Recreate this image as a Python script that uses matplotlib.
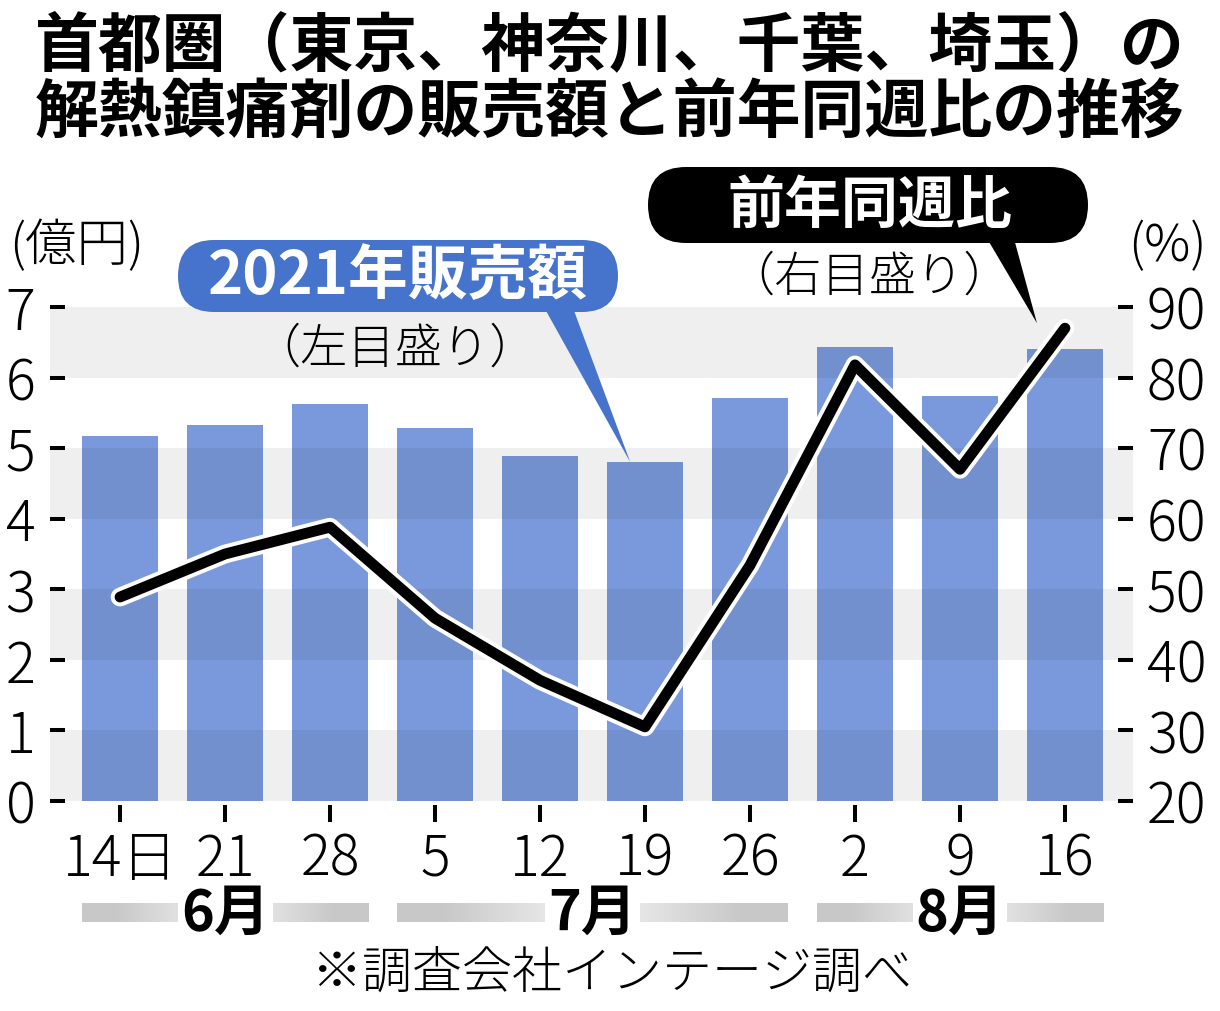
import numpy as np
import matplotlib
matplotlib.use('Agg')
import matplotlib.pyplot as plt
import matplotlib.patheffects as pe
from matplotlib.patches import FancyBboxPatch, Polygon
from matplotlib.colors import LinearSegmentedColormap

plt.rcParams['font.family'] = ['Noto Sans CJK JP', 'DejaVu Sans']

# data
week_labels = ['14日', '21', '28', '5', '12', '19', '26', '2', '9', '16']
week_month = [6, 6, 6, 7, 7, 7, 7, 8, 8, 8]
month_labels = {6: '6月', 7: '7月', 8: '8月'}
sales = [5.17, 5.33, 5.62, 5.29, 4.89, 4.80, 5.71, 6.43, 5.74, 6.41]   # 億円
yoy = [48.9, 55.0, 58.8, 45.9, 37.1, 30.5, 53.4, 81.8, 67.0, 87.0]     # %
left_ticks = list(range(0, 8))
right_ticks = list(range(20, 100, 10))

W, H = 1220, 1011
fig = plt.figure(figsize=(W / 100, H / 100), dpi=100)

# main axes (pixel box 50..1133 x 307..801)
ax = fig.add_axes([50 / W, 1 - 801 / H, (1133 - 50) / W, (801 - 307) / H])
ax2 = ax.twinx()
x = np.arange(len(sales))

ax.bar(x, sales, width=0.724, color='#7a99dc', zorder=2)
# grey bands drawn as a faint dark overlay -> acts like multiply over the bars
for lo in range(0, 7, 2):
    ax.axhspan(lo, lo + 1, color='black', alpha=0.063, lw=0, zorder=3)

ax.set_xlim(-0.667, 9.648)
ax.set_ylim(0, 7)
ax2.set_ylim(20, 90)

for a in (ax, ax2):
    for s in a.spines.values():
        s.set_visible(False)
ax.spines['bottom'].set_position(('outward', 3))

ax.set_yticks(left_ticks)
ax.set_yticklabels([str(t) for t in left_ticks], fontweight='light')
ax2.set_yticks(right_ticks)
ax2.set_yticklabels([str(t) for t in right_ticks], fontweight='light')
ax.set_xticks(x)
ax.set_xticklabels(week_labels, fontweight='light')

ax.tick_params(axis='y', direction='in', length=10.8, width=2.9, pad=10.5,
               labelsize=40, left=True, right=False)
ax2.tick_params(axis='y', direction='in', length=10.8, width=2.9, pad=10,
                labelsize=40, left=False, right=True)
ax.tick_params(axis='x', direction='out', length=12, width=2.9, pad=6,
               labelsize=40)

ax2.plot(x, yoy, color='black', lw=7.8, solid_capstyle='round',
         solid_joinstyle='round', zorder=5,
         path_effects=[pe.Stroke(linewidth=13.5, foreground='white'), pe.Normal()])

# month strips with a soft gradient and the month label in the gap
strip_cmap = LinearSegmentedColormap.from_list('strip', ['#f4f4f4', '#c8c8c8'])
for m, lab in month_labels.items():
    idx = [i for i, wm in enumerate(week_month) if wm == m]
    x0, x1 = idx[0] - 0.362, idx[-1] + 0.362
    cx = (idx[0] + idx[-1]) / 2
    xs = np.linspace(x0, x1, 300)
    d = np.abs(xs - cx) / max(cx - x0, x1 - cx)
    ax.imshow(np.clip(d * 1.3, 0, 1)[None, :], cmap=strip_cmap, vmin=0, vmax=1,
              extent=[x0, x1, -1.714, -1.445], aspect='auto', clip_on=False,
              zorder=1, interpolation='bilinear')
    ax.text(cx, -1.60, lab, ha='center', va='center', fontsize=40,
            fontweight='bold', clip_on=False, zorder=4,
            bbox=dict(boxstyle='square,pad=0.06', fc='white', ec='none'))
ax.set_xlim(-0.667, 9.648)
ax.set_ylim(0, 7)

# overlay in pixel coordinates for titles and callouts
ov = fig.add_axes([0, 0, 1, 1], zorder=10)
ov.set_xlim(0, W)
ov.set_ylim(H, 0)
ov.axis('off')


def to_px(a, xv, yv):
    dx, dy = a.transData.transform((xv, yv))
    return dx, H - dy


ov.text(610, 46, '首都圏（東京、神奈川、千葉、埼玉）の', ha='center', va='center',
        fontsize=46, fontweight='bold')
ov.text(610, 113, '解熱鎮痛剤の販売額と前年同週比の推移', ha='center', va='center',
        fontsize=46, fontweight='bold')

ov.text(77, 247, '(億円)', ha='center', va='center', fontsize=37, fontweight='light')
ov.text(1167, 247, '(%)', ha='center', va='center', fontsize=37, fontweight='light')

# blue callout: sales
blue = '#4673cc'
tip = to_px(ax, x[5] - 0.14, sales[5])
ov.add_patch(Polygon([(540, 300), (570, 300), tip], closed=True, fc=blue, ec='none'))
ov.add_patch(FancyBboxPatch((178, 240), 440, 72, boxstyle='round,pad=0,rounding_size=36',
                            fc=blue, ec='none'))
ov.text(398, 277, '2021年販売額', ha='center', va='center', fontsize=43,
        fontweight='bold', color='white')
ov.text(395, 349, '（左目盛り）', ha='center', va='center', fontsize=34, fontweight='light')

# black callout: year-on-year
ex, ey = to_px(ax2, x[-1], yoy[-1])
ov.add_patch(Polygon([(985, 235), (1013, 235), (ex - 28, ey - 5)], closed=True,
                     fc='black', ec='none'))
ov.add_patch(FancyBboxPatch((648, 167), 440, 76, boxstyle='round,pad=0,rounding_size=38',
                            fc='black', ec='none'))
ov.text(870, 206, '前年同週比', ha='center', va='center', fontsize=41,
        fontweight='bold', color='white')
ov.text(869, 277, '（右目盛り）', ha='center', va='center', fontsize=34, fontweight='light')

ov.text(612, 974, '※調査会社インテージ調べ', ha='center', va='center', fontsize=36,
        fontweight='light')

fig.savefig('out.png', dpi=100)
